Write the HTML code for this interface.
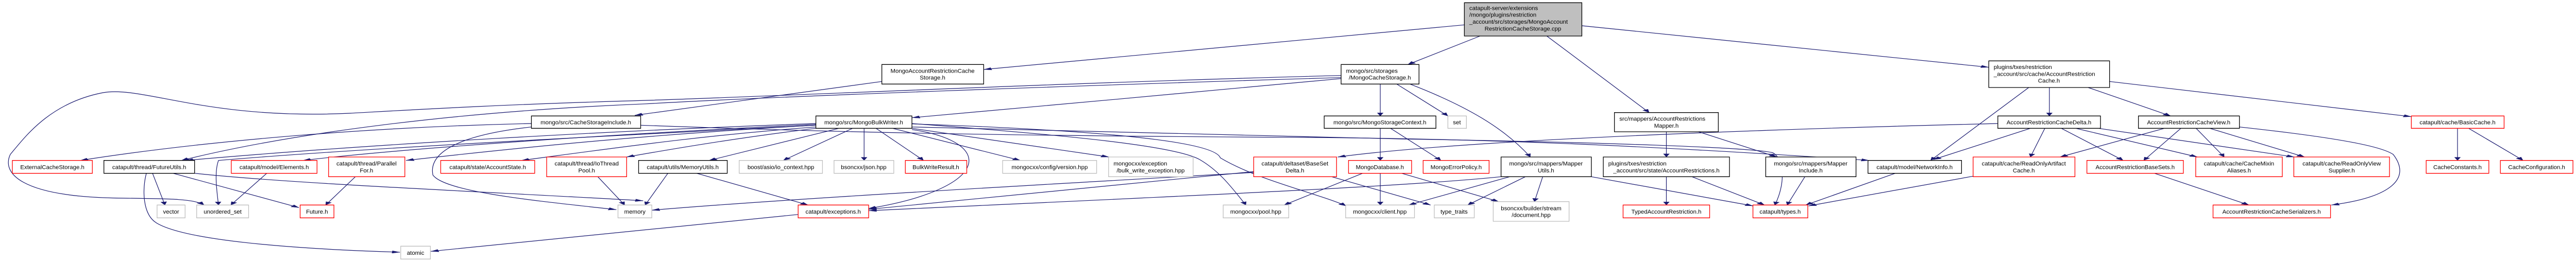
<!DOCTYPE html>
<html><head><meta charset="utf-8"><style>
html,body{margin:0;padding:0;background:#fff;width:100%;height:100%;overflow:hidden;}
svg{display:block;position:absolute;left:0;top:0;width:100%;height:100%;}
.e{fill:none;stroke:#191970;stroke-width:1.2;vector-effect:non-scaling-stroke;marker-end:url(#a);}
.k{fill:#fff;stroke:#000;stroke-width:1.3;vector-effect:non-scaling-stroke;}
.r{fill:#fff;stroke:#ff0000;stroke-width:1.3;vector-effect:non-scaling-stroke;}
.g{fill:#fff;stroke:#bfbfbf;stroke-width:1.3;vector-effect:non-scaling-stroke;}
.root{fill:#bfbfbf;stroke:#000;stroke-width:1.3;vector-effect:non-scaling-stroke;}
text{font-family:"Liberation Sans",sans-serif;font-size:34px;fill:#000;}
</style></head><body>
<svg viewBox="0 0 6248.4 1527" preserveAspectRatio="none" xmlns="http://www.w3.org/2000/svg">
<defs><marker id="a" markerUnits="userSpaceOnUse" markerWidth="40" markerHeight="40" refX="28" refY="0" orient="auto" overflow="visible" viewBox="-30 -20 60 40"><path d="M0,-11 L28,0 L0,11 z" fill="#191970" stroke="#191970"/></marker></defs>
<g>
<path class="e" d="M3552,145 L2386,405"/>
<path class="e" d="M3590,210 L3415,376"/>
<path class="e" d="M3752,210 L4000,656"/>
<path class="e" d="M3837,150 L4824,392"/>
<path class="e" d="M2139,475 L1540,672"/>
<path class="e" d="M3253,440 C2600,480 1900,560 1568,585 C1200,610 1000,640 850,660 C500,700 350,500 250,540 C120,600 60,800 25,900 C5,1000 40,1150 300,1155 C420,1158 470,1160 495,1195"/>
<path class="e" d="M3253,452 C2600,500 1900,560 1568,605 C1100,650 700,780 440,935"/>
<path class="e" d="M3253,458 C3000,520 2500,620 2212,686"/>
<path class="e" d="M1289,720 C900,740 500,820 195,935"/>
<path class="e" d="M1289,740 C1100,790 1040,900 1050,1020 C1080,1120 1300,1170 1495,1222"/>
<path class="e" d="M1554,730 C1900,760 2300,790 3110,800 C3600,805 4000,850 4534,935"/>
<path class="e" d="M1979,720 C1500,760 900,840 450,935"/>
<path class="e" d="M1979,725 C1500,780 1000,860 735,935"/>
<path class="e" d="M1979,730 C1600,780 1300,850 985,935"/>
<path class="e" d="M1979,740 C1700,790 1500,860 1265,935"/>
<path class="e" d="M1979,748 C1800,800 1650,860 1520,915"/>
<path class="e" d="M1979,730 C1500,790 900,860 530,935 C520,1000 525,1100 530,1195"/>
<path class="e" d="M2035,748 L1720,935"/>
<path class="e" d="M2068,748 L1900,935"/>
<path class="e" d="M2096,748 L2096,935"/>
<path class="e" d="M2125,748 L2240,935"/>
<path class="e" d="M2165,748 L2475,935"/>
<path class="e" d="M2212,748 L2690,915"/>
<path class="e" d="M2212,755 C2420,830 2400,1100 2107,1215"/>
<path class="e" d="M2212,720 C2600,790 2850,850 2910,930 C2960,1000 2990,1100 3022,1195"/>
<path class="e" d="M2212,722 C2800,770 2950,850 2960,920 C3050,1050 3200,1130 3265,1200"/>
<path class="e" d="M2212,740 C2500,765 2900,780 3400,810 C3900,830 4250,860 4300,890 C4330,930 4330,1080 4305,1195"/>
<path class="e" d="M3348,490 L3348,676"/>
<path class="e" d="M3388,490 L3512,676"/>
<path class="e" d="M3420,490 C3560,620 3650,750 3712,915"/>
<path class="e" d="M3348,748 L3348,935"/>
<path class="e" d="M3373,748 L3495,935"/>
<path class="e" d="M3305,1010 L3115,1195"/>
<path class="e" d="M3348,1010 L3348,1195"/>
<path class="e" d="M3400,1010 L3635,1175"/>
<path class="e" d="M3230,1030 L3470,1195"/>
<path class="e" d="M3041,1000 C2700,1080 2400,1150 2107,1220"/>
<path class="e" d="M3041,1005 C2500,1080 1900,1160 1581,1225"/>
<path class="e" d="M3641,1030 C3400,1090 2800,1150 2107,1228"/>
<path class="e" d="M3662,1030 L3417,1195"/>
<path class="e" d="M3700,1030 L3560,1195"/>
<path class="e" d="M3742,1030 L3722,1175"/>
<path class="e" d="M3860,1030 L4252,1200"/>
<path class="e" d="M4042,768 L4042,915"/>
<path class="e" d="M4120,768 L4310,915"/>
<path class="e" d="M4042,1030 L4042,1195"/>
<path class="e" d="M4104,1030 L4280,1195"/>
<path class="e" d="M4378,1030 L4335,1195"/>
<path class="e" d="M4597,1010 L4380,1195"/>
<path class="e" d="M4786,1027 L4387,1200"/>
<path class="e" d="M4846,720 C4500,740 3600,800 3245,915"/>
<path class="e" d="M4921,510 L4683,935"/>
<path class="e" d="M4971,510 L4971,676"/>
<path class="e" d="M5065,510 L5265,676"/>
<path class="e" d="M5117,475 L5849,680"/>
<path class="e" d="M4925,748 L4690,930"/>
<path class="e" d="M4960,748 L4925,915"/>
<path class="e" d="M5000,748 L5150,935"/>
<path class="e" d="M5035,748 L5330,915"/>
<path class="e" d="M5090,748 L5565,915"/>
<path class="e" d="M5250,748 L4997,915"/>
<path class="e" d="M5290,748 L5200,935"/>
<path class="e" d="M5327,748 L5395,915"/>
<path class="e" d="M5360,748 L5590,915"/>
<path class="e" d="M5432,740 C5700,810 5780,860 5805,900 C5850,1040 5800,1150 5655,1195"/>
<path class="e" d="M5226,1010 L5455,1195"/>
<path class="e" d="M5961,748 L5961,935"/>
<path class="e" d="M5988,748 L6120,935"/>
<path class="e" d="M355,1010 C345,1100 345,1250 380,1300 C450,1400 700,1450 970,1470"/>
<path class="e" d="M370,1010 L400,1195"/>
<path class="e" d="M420,1010 L725,1210"/>
<path class="e" d="M472,1010 C700,1070 1200,1120 1560,1170"/>
<path class="e" d="M647,1010 L560,1195"/>
<path class="e" d="M862,1030 L790,1195"/>
<path class="e" d="M1450,1030 L1515,1195"/>
<path class="e" d="M1620,1010 L1565,1195"/>
<path class="e" d="M1690,1010 L1960,1195"/>
<path class="e" d="M1936,1250 L1045,1465"/>

<rect class="r" x="30" y="935" width="194" height="75"/><text transform="translate(127,985) scale(0.42,1)" text-anchor="middle">ExternalCacheStorage.h</text>
<rect class="k" x="252" y="935" width="220" height="75"/><text transform="translate(362,985) scale(0.42,1)" text-anchor="middle">catapult/thread/FutureUtils.h</text>
<rect class="r" x="561" y="935" width="208" height="75"/><text transform="translate(665,985) scale(0.42,1)" text-anchor="middle">catapult/model/Elements.h</text>
<rect class="r" x="797" y="915" width="185" height="115"/><text transform="translate(889,965) scale(0.42,1)" text-anchor="middle">catapult/thread/Parallel</text><text transform="translate(889,1005) scale(0.42,1)" text-anchor="middle">For.h</text>
<rect class="r" x="1069" y="935" width="228" height="75"/><text transform="translate(1183,985) scale(0.42,1)" text-anchor="middle">catapult/state/AccountState.h</text>
<rect class="r" x="1326" y="915" width="194" height="115"/><text transform="translate(1423,965) scale(0.42,1)" text-anchor="middle">catapult/thread/IoThread</text><text transform="translate(1423,1005) scale(0.42,1)" text-anchor="middle">Pool.h</text>
<rect class="k" x="1549" y="935" width="215" height="75"/><text transform="translate(1656,985) scale(0.42,1)" text-anchor="middle">catapult/utils/MemoryUtils.h</text>
<rect class="k" x="1289" y="676" width="265" height="72"/><text transform="translate(1421,724) scale(0.42,1)" text-anchor="middle">mongo/src/CacheStorageInclude.h</text>
<rect class="g" x="381" y="1195" width="68" height="75"/><text transform="translate(415,1245) scale(0.42,1)" text-anchor="middle">vector</text>
<rect class="g" x="477" y="1195" width="126" height="75"/><text transform="translate(540,1245) scale(0.42,1)" text-anchor="middle">unordered_set</text>
<rect class="r" x="728" y="1195" width="82" height="75"/><text transform="translate(769,1245) scale(0.42,1)" text-anchor="middle">Future.h</text>
<rect class="g" x="1499" y="1195" width="82" height="75"/><text transform="translate(1540,1245) scale(0.42,1)" text-anchor="middle">memory</text>
<rect class="g" x="972" y="1435" width="72" height="75"/><text transform="translate(1008,1485) scale(0.42,1)" text-anchor="middle">atomic</text>
<rect class="k" x="2139" y="376" width="247" height="114"/><text transform="translate(2262,424) scale(0.42,1)" text-anchor="middle">MongoAccountRestrictionCache</text><text transform="translate(2262,464) scale(0.42,1)" text-anchor="middle">Storage.h</text>
<rect class="k" x="1979" y="676" width="233" height="72"/><text transform="translate(2095,724) scale(0.42,1)" text-anchor="middle">mongo/src/MongoBulkWriter.h</text>
<rect class="g" x="1793" y="935" width="202" height="75"/><text transform="translate(1894,985) scale(0.42,1)" text-anchor="middle">boost/asio/io_context.hpp</text>
<rect class="g" x="2023" y="935" width="145" height="75"/><text transform="translate(2095,985) scale(0.42,1)" text-anchor="middle">bsoncxx/json.hpp</text>
<rect class="r" x="2196" y="935" width="149" height="75"/><text transform="translate(2270,985) scale(0.42,1)" text-anchor="middle">BulkWriteResult.h</text>
<rect class="g" x="2432" y="935" width="228" height="75"/><text transform="translate(2546,985) scale(0.42,1)" text-anchor="middle">mongocxx/config/version.hpp</text>
<rect class="g" x="2689" y="915" width="205" height="115"/><text transform="translate(2701,965) scale(0.42,1)">mongocxx/exception</text><text transform="translate(2791,1005) scale(0.42,1)" text-anchor="middle">/bulk_write_exception.hpp</text>
<rect class="r" x="3041" y="915" width="201" height="115"/><text transform="translate(3141,965) scale(0.42,1)" text-anchor="middle">catapult/deltaset/BaseSet</text><text transform="translate(3141,1005) scale(0.42,1)" text-anchor="middle">Delta.h</text>
<rect class="r" x="1936" y="1195" width="171" height="75"/><text transform="translate(2021,1245) scale(0.42,1)" text-anchor="middle">catapult/exceptions.h</text>
<rect class="g" x="2967" y="1195" width="159" height="75"/><text transform="translate(3046,1245) scale(0.42,1)" text-anchor="middle">mongocxx/pool.hpp</text>
<rect class="root" x="3552" y="16" width="285" height="194"/><text transform="translate(3564,58) scale(0.42,1)">catapult-server/extensions</text><text transform="translate(3564,98) scale(0.42,1)">/mongo/plugins/restriction</text><text transform="translate(3564,138) scale(0.42,1)">_account/src/storages/MongoAccount</text><text transform="translate(3694,178) scale(0.42,1)" text-anchor="middle">RestrictionCacheStorage.cpp</text>
<rect class="k" x="3253" y="376" width="189" height="114"/><text transform="translate(3265,424) scale(0.42,1)">mongo/src/storages</text><text transform="translate(3347,464) scale(0.42,1)" text-anchor="middle">/MongoCacheStorage.h</text>
<rect class="k" x="3212" y="676" width="271" height="72"/><text transform="translate(3347,724) scale(0.42,1)" text-anchor="middle">mongo/src/MongoStorageContext.h</text>
<rect class="g" x="3512" y="676" width="45" height="72"/><text transform="translate(3534,724) scale(0.42,1)" text-anchor="middle">set</text>
<rect class="k" x="3916" y="656" width="252" height="112"/><text transform="translate(3928,704) scale(0.42,1)">src/mappers/AccountRestrictions</text><text transform="translate(4042,744) scale(0.42,1)" text-anchor="middle">Mapper.h</text>
<rect class="r" x="3271" y="935" width="153" height="75"/><text transform="translate(3347,985) scale(0.42,1)" text-anchor="middle">MongoDatabase.h</text>
<rect class="r" x="3452" y="935" width="160" height="75"/><text transform="translate(3532,985) scale(0.42,1)" text-anchor="middle">MongoErrorPolicy.h</text>
<rect class="k" x="3641" y="915" width="219" height="115"/><text transform="translate(3750,965) scale(0.42,1)" text-anchor="middle">mongo/src/mappers/Mapper</text><text transform="translate(3750,1005) scale(0.42,1)" text-anchor="middle">Utils.h</text>
<rect class="k" x="3889" y="915" width="306" height="115"/><text transform="translate(3901,965) scale(0.42,1)">plugins/txes/restriction</text><text transform="translate(4042,1005) scale(0.42,1)" text-anchor="middle">_account/src/state/AccountRestrictions.h</text>
<rect class="k" x="4283" y="915" width="219" height="115"/><text transform="translate(4392,965) scale(0.42,1)" text-anchor="middle">mongo/src/mappers/Mapper</text><text transform="translate(4392,1005) scale(0.42,1)" text-anchor="middle">Include.h</text>
<rect class="k" x="4531" y="935" width="227" height="75"/><text transform="translate(4644,985) scale(0.42,1)" text-anchor="middle">catapult/model/NetworkInfo.h</text>
<rect class="g" x="3264" y="1195" width="167" height="75"/><text transform="translate(3347,1245) scale(0.42,1)" text-anchor="middle">mongocxx/client.hpp</text>
<rect class="g" x="3479" y="1195" width="97" height="75"/><text transform="translate(3527,1245) scale(0.42,1)" text-anchor="middle">type_traits</text>
<rect class="g" x="3622" y="1175" width="184" height="115"/><text transform="translate(3714,1225) scale(0.42,1)" text-anchor="middle">bsoncxx/builder/stream</text><text transform="translate(3714,1265) scale(0.42,1)" text-anchor="middle">/document.hpp</text>
<rect class="r" x="3937" y="1195" width="210" height="75"/><text transform="translate(4042,1245) scale(0.42,1)" text-anchor="middle">TypedAccountRestriction.h</text>
<rect class="r" x="4252" y="1195" width="133" height="75"/><text transform="translate(4318,1245) scale(0.42,1)" text-anchor="middle">catapult/types.h</text>
<rect class="k" x="4824" y="355" width="293" height="155"/><text transform="translate(4836,402) scale(0.42,1)">plugins/txes/restriction</text><text transform="translate(4836,442) scale(0.42,1)">_account/src/cache/AccountRestriction</text><text transform="translate(4970,482) scale(0.42,1)" text-anchor="middle">Cache.h</text>
<rect class="k" x="4846" y="676" width="249" height="72"/><text transform="translate(4970,724) scale(0.42,1)" text-anchor="middle">AccountRestrictionCacheDelta.h</text>
<rect class="k" x="5187" y="676" width="245" height="72"/><text transform="translate(5309,724) scale(0.42,1)" text-anchor="middle">AccountRestrictionCacheView.h</text>
<rect class="r" x="5849" y="676" width="225" height="72"/><text transform="translate(5961,724) scale(0.42,1)" text-anchor="middle">catapult/cache/BasicCache.h</text>
<rect class="r" x="4786" y="915" width="247" height="115"/><text transform="translate(4909,965) scale(0.42,1)" text-anchor="middle">catapult/cache/ReadOnlyArtifact</text><text transform="translate(4909,1005) scale(0.42,1)" text-anchor="middle">Cache.h</text>
<rect class="r" x="5062" y="935" width="234" height="75"/><text transform="translate(5179,985) scale(0.42,1)" text-anchor="middle">AccountRestrictionBaseSets.h</text>
<rect class="r" x="5326" y="915" width="210" height="115"/><text transform="translate(5431,965) scale(0.42,1)" text-anchor="middle">catapult/cache/CacheMixin</text><text transform="translate(5431,1005) scale(0.42,1)" text-anchor="middle">Aliases.h</text>
<rect class="r" x="5564" y="915" width="232" height="115"/><text transform="translate(5680,965) scale(0.42,1)" text-anchor="middle">catapult/cache/ReadOnlyView</text><text transform="translate(5680,1005) scale(0.42,1)" text-anchor="middle">Supplier.h</text>
<rect class="r" x="5885" y="935" width="152" height="75"/><text transform="translate(5961,985) scale(0.42,1)" text-anchor="middle">CacheConstants.h</text>
<rect class="r" x="6065" y="935" width="176" height="75"/><text transform="translate(6153,985) scale(0.42,1)" text-anchor="middle">CacheConfiguration.h</text>
<rect class="r" x="5368" y="1195" width="285" height="75"/><text transform="translate(5510,1245) scale(0.42,1)" text-anchor="middle">AccountRestrictionCacheSerializers.h</text>
</g>
</svg>
</body></html>
